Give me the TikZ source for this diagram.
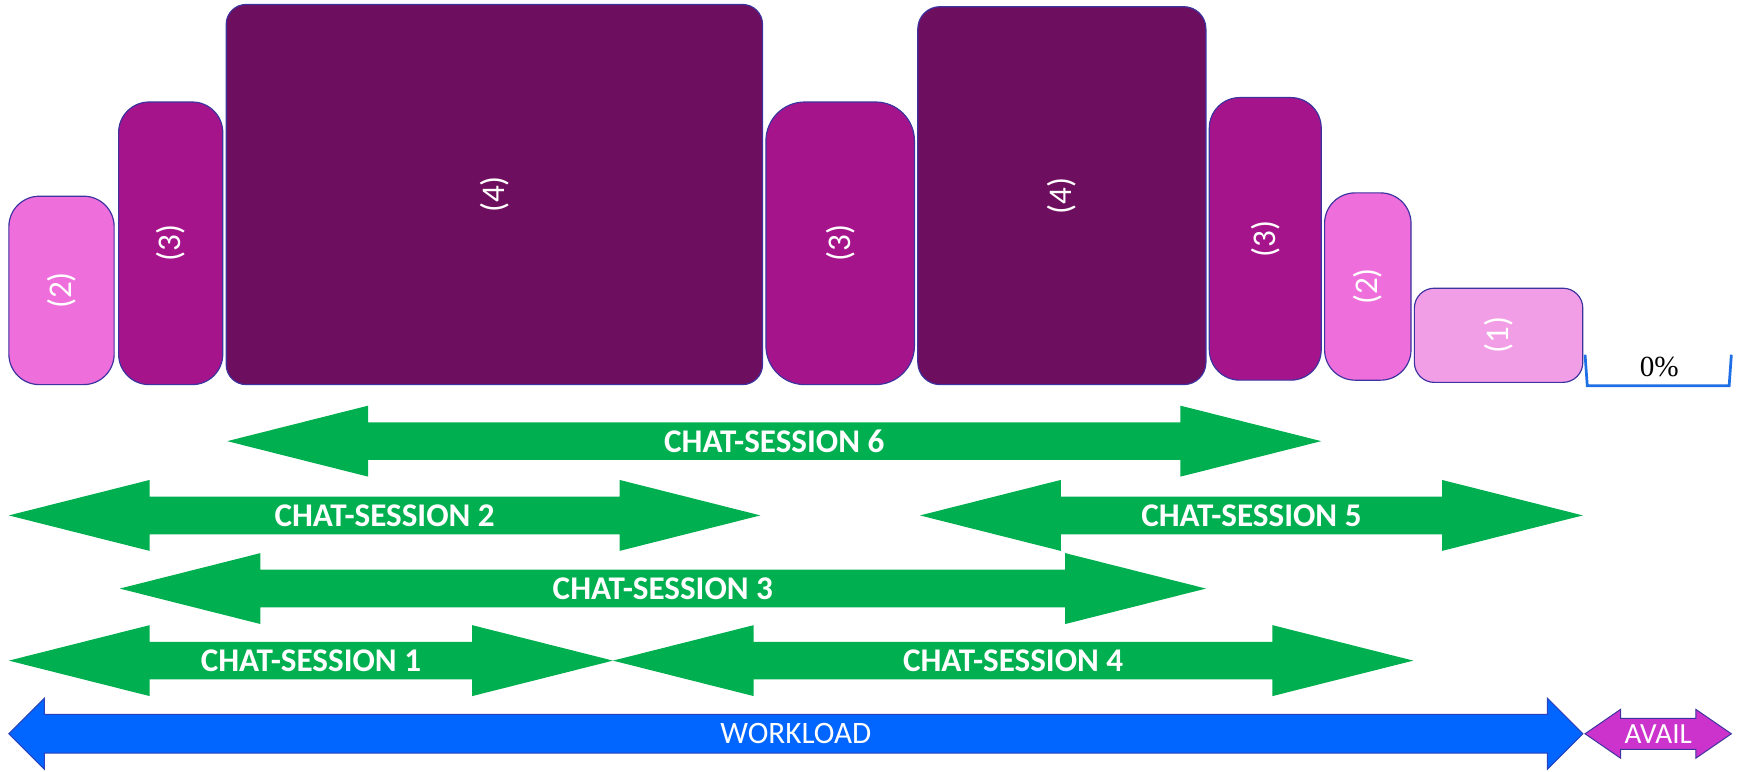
\documentclass[tikz,border=0pt]{standalone}
\usepackage{fontspec}
\setmainfont{Carlito}
\newfontfamily\pctfont{Liberation Serif}
\usepackage{xcolor}
\usepackage{tikz}
\usetikzlibrary{positioning}

\definecolor{lvlfour}{RGB}{110,14,94}
\definecolor{lvlthree}{RGB}{166,20,140}
\definecolor{lvltwo}{RGB}{238,110,220}
\definecolor{lvlone}{RGB}{242,158,230}
\definecolor{boxline}{RGB}{60,50,160}
\definecolor{chatgreen}{RGB}{0,176,80}
\definecolor{loadblue}{RGB}{0,102,255}
\definecolor{availpink}{RGB}{204,51,204}
\definecolor{bracketblue}{RGB}{30,110,230}

% block arrow: x left, x right, y, head half height, shaft half height, head length, style
\newcommand{\blockarrow}[7]{%
  \path[#7] (#1,#3) -- ({#1+#6},{#3-#4}) -- ({#1+#6},{#3-#5}) -- ({#2-#6},{#3-#5})
    -- ({#2-#6},{#3-#4}) -- (#2,#3) -- ({#2-#6},{#3+#4}) -- ({#2-#6},{#3+#5})
    -- ({#1+#6},{#3+#5}) -- ({#1+#6},{#3+#4}) -- cycle;}

\begin{document}
\begin{tikzpicture}[x=0.02cm,y=-0.02cm,
  level/.style={draw=boxline,line width=0.6pt,rounded corners=0.55cm,inner sep=0pt,
    text=white,font=\fontsize{17}{20}\selectfont},
  chat/.style={fill=chatgreen},
  chat label/.style={text=white,font=\fontsize{17}{20}\selectfont\bfseries,inner sep=0pt},
  load/.style={fill=loadblue,draw=boxline!70!loadblue,line width=0.5pt},
  avail/.style={fill=availpink,draw=boxline,line width=0.5pt},
  arrow label/.style={text=white,font=\fontsize{16}{19}\selectfont,inner sep=0pt}]

    \useasboundingbox (0,0) rectangle (1568,696);

    % The levels
    \node [level,fill=lvltwo,minimum width=1.9cm,minimum height=3.4cm] at (55.5,262) (two1) {\rotatebox{90}{(2)}};
    \node [level,fill=lvlthree,minimum width=1.88cm,minimum height=5.1cm] at (154,219.5) (three1) {\rotatebox{90}{(3)}};
    \node [level,fill=lvlfour,rounded corners=0.36cm,minimum width=9.68cm,minimum height=6.86cm] at (446,175.5) (four1) {\rotatebox{90}{(4)}};
    \node [level,fill=lvlthree,rounded corners=0.7cm,minimum width=2.68cm,minimum height=5.1cm] at (758,219.5) (three2) {\rotatebox{90}{(3)}};
    \node [level,fill=lvlfour,rounded corners=0.4cm,minimum width=5.2cm,minimum height=6.82cm] at (958,176.5) (four2) {\rotatebox{90}{(4)}};
    \node [level,fill=lvlthree,minimum width=2.02cm,minimum height=5.1cm] at (1141.5,215.5) (three3) {\rotatebox{90}{(3)}};
    \node [level,fill=lvltwo,minimum width=1.56cm,minimum height=3.38cm] at (1234,258.5) (two2) {\rotatebox{90}{(2)}};
    \node [level,fill=lvlone,rounded corners=0.36cm,minimum width=3.04cm,minimum height=1.7cm] at (1352,302.5) (one) {\rotatebox{90}{(1)}};

    % Empty slot
    \coordinate (gapL) at (1430,320);
    \coordinate (gapR) at (1562,320);
    \draw [bracketblue,line width=1.4pt] (gapL) -- (1432,348) -- (1560,348) -- (gapR);
    \node [font=\pctfont\fontsize{15}{18}\selectfont] at (1497,331) (zero) {0\%};

    % Chat sessions
    \blockarrow{205}{1192}{398}{32}{17}{127}{chat}
    \node [chat label] at (698.5,398) (cs6) {CHAT-SESSION 6};
    \blockarrow{8}{686}{465}{32}{17}{127}{chat}
    \node [chat label] at (347,465) (cs2) {CHAT-SESSION 2};
    \blockarrow{830}{1428}{465}{32}{17}{127}{chat}
    \node [chat label] at (1129,465) (cs5) {CHAT-SESSION 5};
    \blockarrow{108}{1088}{531}{32}{17}{127}{chat}
    \node [chat label] at (598,531) (cs3) {CHAT-SESSION 3};
    \blockarrow{8}{553}{596}{32}{17}{127}{chat}
    \node [chat label] at (280.5,596) (cs1) {CHAT-SESSION 1};
    \blockarrow{553}{1275}{596}{32}{17}{127}{chat}
    \node [chat label] at (914,596) (cs4) {CHAT-SESSION 4};

    % Workload and availability
    \blockarrow{8}{1428}{662}{32}{17.5}{32}{load}
    \node [arrow label] at (718,662) (workload) {WORKLOAD};
    \blockarrow{1430}{1562}{662}{22}{14}{32}{avail}
    \node [arrow label,font=\fontsize{15}{18}\selectfont] at (1496,662) (avail) {AVAIL};

\end{tikzpicture}
\end{document}
